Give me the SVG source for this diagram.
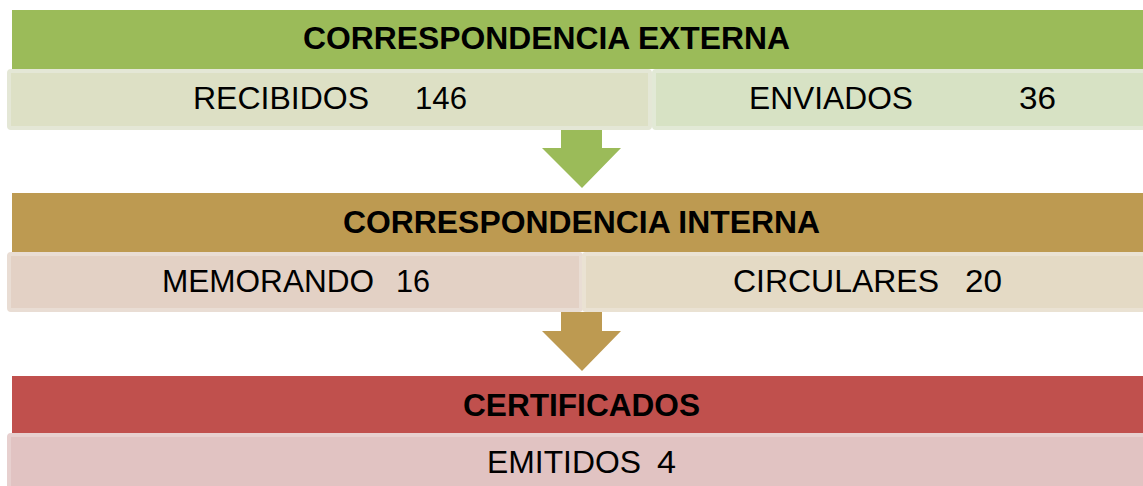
<svg xmlns="http://www.w3.org/2000/svg" width="1143" height="486" viewBox="0 0 1143 486">
<style>
.hdr{font-family:"Liberation Sans",Arial,sans-serif;font-weight:bold;font-size:31px;fill:#000}
.sub{font-family:"Liberation Sans",Arial,sans-serif;font-size:31px;fill:#000}
.box{stroke-width:4}
</style>
<rect width="1143" height="486" fill="#fff"/>
<g id="connectors">
<polygon points="561,128 602,128 602,148 621,148 582,188 542,148 561,148" fill="#9BBB59"/>
<polygon points="561,312 602,312 602,331 621,331 582,371 542,331 561,331" fill="#BD9A51"/>
</g>
<g id="externa">
<rect x="12" y="10" width="1140" height="59" fill="#9BBB59"/>
<text class="hdr" x="303" y="49" textLength="487" lengthAdjust="spacingAndGlyphs">CORRESPONDENCIA EXTERNA</text>
</g>
<g id="recibidos">
<rect class="box" x="9" y="71" width="641" height="57" rx="2" fill="#DDE0C5" stroke="#E4E7D6"/>
<text class="sub" x="193" y="109" textLength="176" lengthAdjust="spacingAndGlyphs">RECIBIDOS</text>
<text class="sub" x="415" y="109" textLength="52" lengthAdjust="spacingAndGlyphs">146</text>
</g>
<g id="enviados">
<rect class="box" x="654" y="71" width="500" height="57" rx="2" fill="#D7E2C4" stroke="#E2E9D6"/>
<text class="sub" x="749" y="109" textLength="164" lengthAdjust="spacingAndGlyphs">ENVIADOS</text>
<text class="sub" x="1019" y="109" textLength="37" lengthAdjust="spacingAndGlyphs">36</text>
</g>
<g id="interna">
<rect x="12" y="193" width="1140" height="59" fill="#BD9A51"/>
<text class="hdr" x="343" y="233" textLength="477" lengthAdjust="spacingAndGlyphs">CORRESPONDENCIA INTERNA</text>
</g>
<g id="memorando">
<rect class="box" x="9" y="254" width="572" height="56" rx="2" fill="#E3D1C5" stroke="#E9DDD4"/>
<text class="sub" x="162" y="292" textLength="212" lengthAdjust="spacingAndGlyphs">MEMORANDO</text>
<text class="sub" x="396" y="292" textLength="34" lengthAdjust="spacingAndGlyphs">16</text>
</g>
<g id="circulares">
<rect class="box" x="584" y="254" width="570" height="56" rx="2" fill="#E4DAC5" stroke="#EAE2D3"/>
<text class="sub" x="733" y="292" textLength="206" lengthAdjust="spacingAndGlyphs">CIRCULARES</text>
<text class="sub" x="965" y="292" textLength="37" lengthAdjust="spacingAndGlyphs">20</text>
</g>
<g id="certificados">
<rect x="12" y="376" width="1140" height="57" fill="#C0504D"/>
<text class="hdr" x="463" y="416" textLength="237" lengthAdjust="spacingAndGlyphs">CERTIFICADOS</text>
</g>
<g id="emitidos">
<rect class="box" x="9" y="435" width="1145" height="60" rx="2" fill="#E1C3C2" stroke="#E7D0CF"/>
<text class="sub" x="487" y="473" textLength="154" lengthAdjust="spacingAndGlyphs">EMITIDOS</text>
<text class="sub" x="657" y="473" textLength="19" lengthAdjust="spacingAndGlyphs">4</text>
</g>
</svg>
